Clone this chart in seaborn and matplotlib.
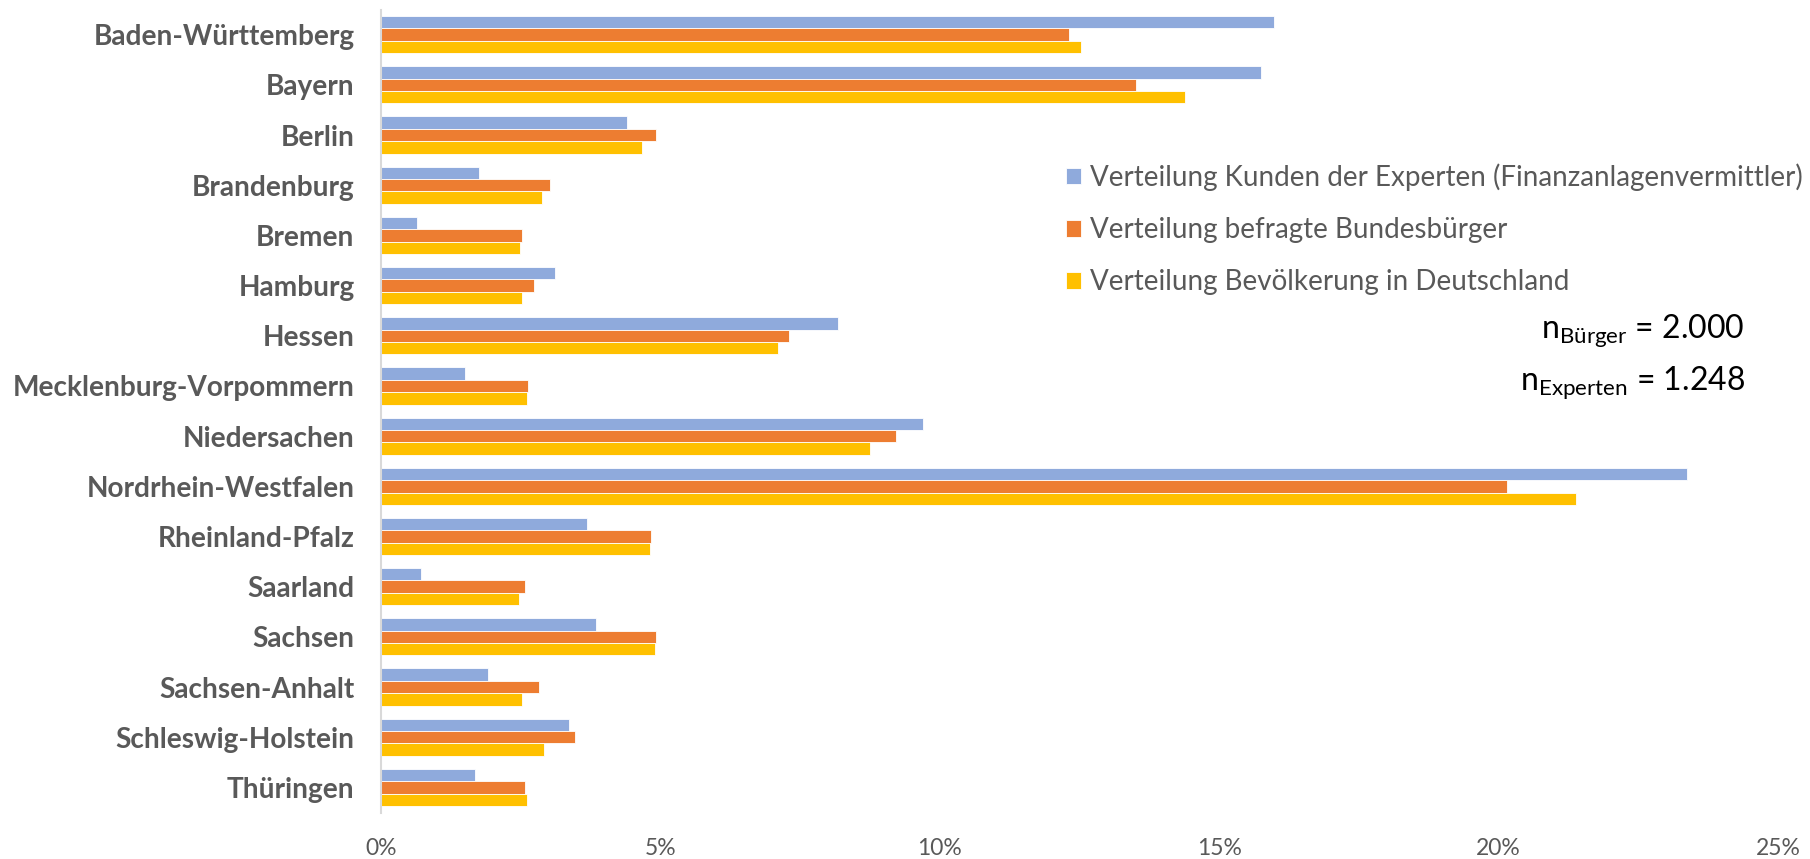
import numpy as np
import pandas as pd
import matplotlib
matplotlib.use("Agg")
import matplotlib.pyplot as plt
from matplotlib.ticker import FuncFormatter, FixedLocator
import seaborn as sns

# Bundeslaender und Anteile in %
states = ["Baden-Württemberg", "Bayern", "Berlin", "Brandenburg", "Bremen", "Hamburg",
          "Hessen", "Mecklenburg-Vorpommern", "Niedersachen", "Nordrhein-Westfalen",
          "Rheinland-Pfalz", "Saarland", "Sachsen", "Sachsen-Anhalt",
          "Schleswig-Holstein", "Thüringen"]
kunden_experten = [15.98, 15.74, 4.41, 1.75, 0.64, 3.12, 8.18, 1.51, 9.70, 23.38,
                   3.69, 0.72, 3.85, 1.91, 3.36, 1.68]
befragte_buerger = [12.31, 13.51, 4.93, 3.03, 2.53, 2.74, 7.31, 2.63, 9.22, 20.15,
                    4.83, 2.58, 4.93, 2.83, 3.48, 2.58]
bevoelkerung = [12.53, 14.38, 4.67, 2.88, 2.48, 2.53, 7.11, 2.62, 8.75, 21.39,
                4.82, 2.47, 4.91, 2.53, 2.92, 2.62]
series_names = ["Verteilung Kunden der Experten (Finanzanlagenvermittler)",
                "Verteilung befragte Bundesbürger",
                "Verteilung Bevölkerung in Deutschland"]
x_ticks = [0, 5, 10, 15, 20, 25]
colors = ["#8FAADC", "#ED7D31", "#FFC000"]

df = pd.DataFrame({"Bundesland": states * 3,
                   "Anteil": kunden_experten + befragte_buerger + bevoelkerung,
                   "Serie": [s for s in series_names for _ in states]})

sns.set_style("white")
plt.rcParams["font.family"] = ["Lato", "DejaVu Sans"]
plt.rcParams["mathtext.fontset"] = "custom"
plt.rcParams["mathtext.rm"] = "Lato"

grey = "#595959"
fig = plt.figure(figsize=(18.1, 8.59), dpi=100)
ax = fig.add_axes([0.2105, 0.0541, 0.7718, 0.9348])

sns.barplot(data=df, y="Bundesland", x="Anteil", hue="Serie", order=states,
            hue_order=series_names, palette=colors, orient="h", width=0.74,
            edgecolor="white", linewidth=0.6, saturation=1, errorbar=None, ax=ax)

ax.set_xlim(0, 25)
ax.set_ylim(len(states) - 0.5, -0.5)
ax.set_xticks(x_ticks)
ax.xaxis.set_major_formatter(FuncFormatter(lambda v, p: f"{v:.0f}%"))
ax.tick_params(axis="x", length=0, pad=18, labelsize=16.5, labelcolor=grey)
ax.tick_params(axis="y", which="major", length=0, pad=19, labelsize=20.2, labelcolor=grey)
for lab in ax.get_yticklabels():
    lab.set_fontweight("bold")
ax.yaxis.set_minor_locator(FixedLocator(np.arange(-0.5, len(states), 1)))
ax.tick_params(axis="y", which="minor", length=9, width=1.5, color="#D9D9D9")
ax.set_xlabel("")
ax.set_ylabel("")

for side in ["top", "right", "bottom"]:
    ax.spines[side].set_visible(False)
ax.spines["left"].set_color("#D9D9D9")
ax.spines["left"].set_linewidth(1.5)

handles, labels = ax.get_legend_handles_labels()
ax.legend(handles, labels, loc="upper left", bbox_to_anchor=(1055 / 1810, 1 - 152 / 859),
          bbox_transform=fig.transFigure, frameon=False, fontsize=20,
          labelcolor=grey, handlelength=0.55, handleheight=0.55, handletextpad=0.3,
          labelspacing=0.95, borderaxespad=0)

fig.text(1745 / 1810, 1 - 331 / 859, r"$\mathregular{n_{Bürger}}$ = 2.000",
         ha="right", va="center", fontsize=23, color="black")
fig.text(1745 / 1810, 1 - 383 / 859, r"$\mathregular{n_{Experten}}$ = 1.248",
         ha="right", va="center", fontsize=23, color="black")

fig.savefig("out.png", dpi=100)
